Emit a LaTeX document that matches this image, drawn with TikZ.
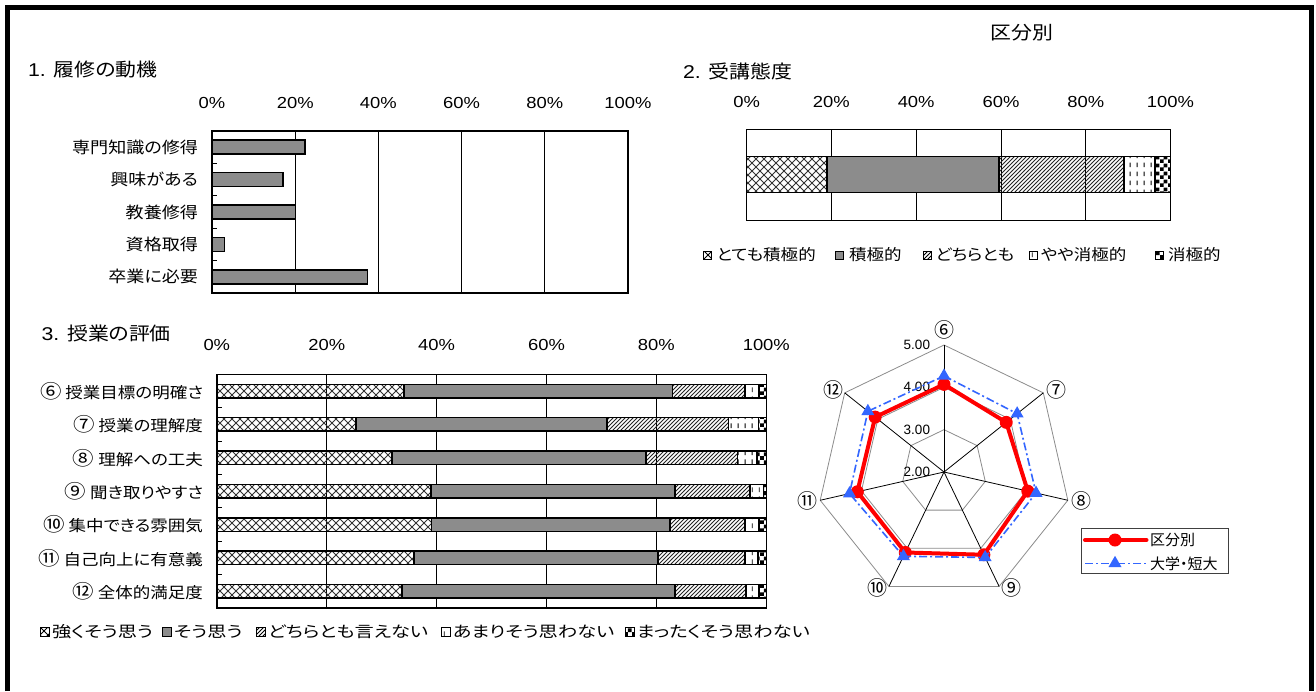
\documentclass[tikz,border=0pt]{standalone}
\usepackage{fontspec}
\setmainfont[FakeStretch=1.15]{Liberation Sans}
\newfontfamily\jp[FakeStretch=1.13,RawFeature=+palt]{Noto Sans CJK JP}
\newfontfamily\jpw[FakeStretch=1.24,RawFeature=+palt]{Noto Sans CJK JP}
\newfontfamily\jpn[RawFeature=+palt]{Noto Sans CJK JP}
\newfontfamily\lsn{Liberation Sans}
\newcommand\cnum[1]{{\fontsize{19}{18}\selectfont #1}}
\usetikzlibrary{patterns,shapes.geometric}
\pgfdeclarepatternformonly{xdiam}{\pgfqpoint{-1pt}{-1pt}}{\pgfqpoint{9pt}{9pt}}{\pgfqpoint{8pt}{8pt}}{%
  \pgfsetlinewidth{0.75pt}%
  \pgfpathmoveto{\pgfqpoint{0pt}{0pt}}\pgfpathlineto{\pgfqpoint{8.1pt}{8.1pt}}%
  \pgfpathmoveto{\pgfqpoint{0pt}{8pt}}\pgfpathlineto{\pgfqpoint{8.1pt}{-0.1pt}}%
  \pgfusepath{stroke}}
\pgfdeclarepatternformonly{hatchne}{\pgfqpoint{-1pt}{-1pt}}{\pgfqpoint{5pt}{5pt}}{\pgfqpoint{4pt}{4pt}}{%
  \pgfsetlinewidth{0.8pt}%
  \pgfpathmoveto{\pgfqpoint{0pt}{0pt}}\pgfpathlineto{\pgfqpoint{4.1pt}{4.1pt}}%
  \pgfusepath{stroke}}
\pgfdeclarepatternformonly{vdash}{\pgfqpoint{0pt}{0pt}}{\pgfqpoint{7pt}{9pt}}{\pgfqpoint{7pt}{9pt}}{%
  \pgfsetlinewidth{1pt}%
  \pgfpathmoveto{\pgfqpoint{3.5pt}{2pt}}\pgfpathlineto{\pgfqpoint{3.5pt}{7pt}}%
  \pgfusepath{stroke}}
\pgfdeclarepatternformonly{checkr}{\pgfqpoint{0pt}{0pt}}{\pgfqpoint{8pt}{8pt}}{\pgfqpoint{8pt}{8pt}}{%
  \pgfpathrectangle{\pgfqpoint{0pt}{0pt}}{\pgfqpoint{4pt}{4pt}}%
  \pgfpathrectangle{\pgfqpoint{4pt}{4pt}}{\pgfqpoint{4pt}{4pt}}%
  \pgfusepath{fill}}
\tikzset{
  txt/.style={inner sep=0pt, outer sep=0pt},
  ttl/.style={txt, anchor=west, font=\fontsize{18.5}{22}\selectfont},
  lbl/.style={txt, anchor=east, font=\jp\fontsize{15.5}{18}\selectfont},
  lblb/.style={txt, anchor=east, font=\jp\fontsize{16}{18}\selectfont},
  leg/.style={txt, anchor=west, font=\jp\fontsize{15.5}{18}\selectfont},
  legw/.style={txt, anchor=west, font=\jpw\fontsize{15.5}{18}\selectfont},
  pct/.style={txt, font=\fontsize{16}{19}\selectfont},
  seg/.style={draw=black, line width=1.5pt},
  pa/.style={seg, pattern=xdiam, pattern color=black!80},
  pb/.style={seg, fill=black!45},
  pc/.style={seg, pattern=hatchne, pattern color=black!85},
  pd/.style={seg, pattern=vdash, pattern color=black},
  pe/.style={seg, pattern=checkr, pattern color=black},
  sym/.style={draw=black, line width=0.9pt},
  grid/.style={line width=0.8pt, black},
  frame/.style={line width=1.6pt, black},
  ring/.style={line width=0.8pt, black!45},
  spoke/.style={line width=0.8pt, black},
  redl/.style={line width=4pt, red, line join=round},
  bluel/.style={line width=1.6pt, color={rgb,255:red,51;green,102;blue,255}, dash pattern=on 8pt off 3pt on 2pt off 3pt},
  tri/.style={regular polygon, regular polygon sides=3, minimum size=15pt, inner sep=0pt, fill={rgb,255:red,51;green,102;blue,255}},
  rlab/.style={txt, font=\jpn\fontsize{20}{22}\selectfont},
  rsc/.style={txt, anchor=east, font=\lsn\fontsize{13.5}{16}\selectfont},
}
\begin{document}
\begin{tikzpicture}[x=1pt,y=-1pt]
\useasboundingbox (0,0) rectangle (1316,691);
\fill[white] (0,0) rectangle (1316,691);
\draw[line width=5pt] (7.5,691) -- (7.5,7.5) -- (1311,7.5) -- (1311,691);

% headings
\node[txt, font=\jp\fontsize{18.5}{22}\selectfont] (kubun) at (1022,33) {区分別};
\node[ttl] (t1) at (28,70) {1. {\jp 履修の動機}};
\node[ttl] (t2) at (683,71) {2. {\jp 受講態度}};
\node[ttl] (t3) at (41.5,333) {3. {\jp 授業の評価}};

% ---------------- chart 1
\foreach \i/\t in {0/{0\%},1/{20\%},2/{40\%},3/{60\%},4/{80\%},5/{100\%}}
  \node[pct] (a1p\i) at ({212+83.2*\i},103) {\t};
\foreach \i in {1,...,4}
  \draw[grid] ({212+83.2*\i},131) -- ({212+83.2*\i},293);
\foreach \k/\v/\t in {0/22.4/専門知識の修得,1/17.1/興味がある,2/20.1/教養修得,3/3.0/資格取得,4/37.4/卒業に必要}{
  \pgfmathsetmacro\yc{131+32.4*(\k+0.5)}
  \path[pb] (212,{\yc-7}) rectangle ({212+4.16*\v},{\yc+7});
  \node[lblb] (c1l\k) at (198,\yc) {\t};
}
\foreach \k in {1,...,4}
  \draw[line width=0.8pt] (212,{131+32.4*\k}) -- (217,{131+32.4*\k});
\draw[frame] (212,131) rectangle (628,293);

% ---------------- chart 2
\foreach \i/\t in {0/{0\%},1/{20\%},2/{40\%},3/{60\%},4/{80\%},5/{100\%}}
  \node[pct] (a2p\i) at ({746.6+84.78*\i},102) {\t};
\foreach \i in {1,...,4}
  \draw[grid] ({746.6+84.78*\i},129.3) -- ({746.6+84.78*\i},220.5);
\path[pa] (746.6,156.7) rectangle ({746.6+4.2378*19.0},192.7);
\path[pb] ({746.6+4.2378*19.0},156.7) rectangle ({746.6+4.2378*59.6},192.7);
\path[pc] ({746.6+4.2378*59.6},156.7) rectangle ({746.6+4.2378*89.1},192.7);
\path[pd] ({746.6+4.2378*89.1},156.7) rectangle ({746.6+4.2378*96.4},192.7);
\path[pe] ({746.6+4.2378*96.4},156.7) rectangle (1170.4,192.7);
\draw[frame] (746.6,129.3) rectangle (1170.4,220.5);
% legend 2
\path[sym, pattern=xdiam, pattern color=black] (703,251) rectangle (711,259);
\node[leg] (l2a) at (716.5,255) {とても積極的};
\path[sym, fill=black!45] (835.5,251) rectangle (843.5,259);
\node[leg] (l2b) at (849,255) {積極的};
\path[sym, pattern=hatchne, pattern color=black] (923,251) rectangle (931,259);
\node[leg] (l2c) at (935.5,255) {どちらとも};
\path[sym, pattern=vdash, pattern color=black] (1029,251) rectangle (1037,259);
\node[leg] (l2d) at (1041,255) {やや消極的};
\path[sym, pattern=checkr, pattern color=black] (1155,251) rectangle (1163,259);
\node[leg] (l2e) at (1168,255) {消極的};

% ---------------- chart 3
\foreach \i/\t in {0/{0\%},1/{20\%},2/{40\%},3/{60\%},4/{80\%},5/{100\%}}
  \node[pct] (a3p\i) at ({216.8+109.9*\i},345) {\t};
\foreach \i in {1,...,4}
  \draw[grid] ({216.8+109.9*\i},374.3) -- ({216.8+109.9*\i},608);
\foreach \k/\a/\b/\c/\d/\n/\t in {
  0/34.1/82.9/96.1/98.7/⑥/{授業目標の明確さ},
  1/25.3/71.0/93.1/98.6/⑦/{授業の理解度},
  2/31.9/78.1/94.8/98.3/⑧/{理解への工夫},
  3/39.0/83.4/97.0/99.5/⑨/{聞き取りやすさ},
  4/39.1/82.5/96.1/98.7/⑩/{集中できる雰囲気},
  5/35.9/80.3/96.1/98.5/⑪/{自己向上に有意義},
  6/33.7/83.4/96.3/98.7/⑫/{全体的満足度}}{
  \pgfmathsetmacro\yc{374.3+33.39*(\k+0.5)}
  \pgfmathsetmacro\ya{\yc-6.75}
  \pgfmathsetmacro\yb{\yc+6.75}
  \path[pa] (216.8,\ya) rectangle ({216.8+5.495*\a},\yb);
  \path[pb] ({216.8+5.495*\a},\ya) rectangle ({216.8+5.495*\b},\yb);
  \path[pc] ({216.8+5.495*\b},\ya) rectangle ({216.8+5.495*\c},\yb);
  \path[pd] ({216.8+5.495*\c},\ya) rectangle ({216.8+5.495*\d},\yb);
  \path[pe] ({216.8+5.495*\d},\ya) rectangle (766.3,\yb);
  \node[lbl] (c3l\k) at (203,\yc) {\cnum{\n} \t};
}
\foreach \k in {1,...,6}
  \draw[line width=0.8pt] (216.8,{374.3+33.39*\k}) -- (222,{374.3+33.39*\k});
\draw[frame] (216.8,374.3) rectangle (766.3,608);
% legend 3
\path[sym, pattern=xdiam, pattern color=black] (40,627.5) rectangle (49,636.5);
\node[legw] (l3a) at (52,632) {強くそう思う};
\path[sym, fill=black!45] (162,627.5) rectangle (171,636.5);
\node[legw] (l3b) at (174,632) {そう思う};
\path[sym, pattern=hatchne, pattern color=black] (256,627.5) rectangle (265,636.5);
\node[legw] (l3c) at (268,632) {どちらとも言えない};
\path[sym, pattern=vdash, pattern color=black] (441,627.5) rectangle (450,636.5);
\node[legw] (l3d) at (453,632) {あまりそう思わない};
\path[sym, pattern=checkr, pattern color=black] (625,627.5) rectangle (634,636.5);
\node[legw] (l3e) at (637,632) {まったくそう思わない};

% ---------------- radar
\coordinate (ctr) at (944,472);
\foreach \i/\r/\b in {0/4.07/4.27,1/3.88/4.21,2/4.03/4.23,3/4.17/4.24,4/4.11/4.21,5/4.10/4.29,6/4.08/4.30}{
  \pgfmathsetmacro\ang{90-\i*360/7}
  \coordinate (O\i) at ({944+127*cos(\ang)},{472-127*sin(\ang)});
  \coordinate (F\i) at ({944+84.667*cos(\ang)},{472-84.667*sin(\ang)});
  \coordinate (T\i) at ({944+42.333*cos(\ang)},{472-42.333*sin(\ang)});
  \coordinate (R\i) at ({944+42.333*(\r-2)*cos(\ang)},{472-42.333*(\r-2)*sin(\ang)});
  \coordinate (B\i) at ({944+42.333*(\b-2)*cos(\ang)},{472-42.333*(\b-2)*sin(\ang)});
}
\draw[ring] (T0)--(T1)--(T2)--(T3)--(T4)--(T5)--(T6)--cycle;
\draw[ring] (F0)--(F1)--(F2)--(F3)--(F4)--(F5)--(F6)--cycle;
\draw[ring] (O0)--(O1)--(O2)--(O3)--(O4)--(O5)--(O6)--cycle;
\foreach \i in {0,...,6} \draw[spoke] (ctr) -- (O\i);
\node[rsc] (s5) at (930,344.5) {5.00};
\node[rsc] (s4) at (930,387) {4.00};
\node[rsc] (s3) at (930,429.5) {3.00};
\node[rsc] (s2) at (930,472) {2.00};
\node[rlab] (r6) at (944,329.5) {⑥};
\node[rlab] (r7) at (1056,389.5) {⑦};
\node[rlab] (r8) at (1081.5,500.5) {⑧};
\node[rlab] (r9) at (1011.5,587.5) {⑨};
\node[rlab] (r10) at (877.5,588) {⑩};
\node[rlab] (r11) at (807.5,500.5) {⑪};
\node[rlab] (r12) at (833.5,390) {⑫};
\draw[redl] (R0)--(R1)--(R2)--(R3)--(R4)--(R5)--(R6)--cycle;
\foreach \i in {0,...,6} \fill[red] (R\i) circle[radius=6.5];
\draw[bluel] (B0)--(B1)--(B2)--(B3)--(B4)--(B5)--(B6)--cycle;
\foreach \i in {0,...,6} \node[tri] (bt\i) at (B\i) {};
% radar legend
\draw[line width=1pt, black!75] (1081,528.7) rectangle (1228.3,573.3);
\coordinate (lr1) at (1085,540);
\coordinate (lr2) at (1146.5,540);
\draw[redl, line cap=round] (lr1) -- (lr2);
\fill[red] (1115,540) circle[radius=6.5];
\node[txt, anchor=west, font=\jpn\fontsize{15}{18}\selectfont] (lk1) at (1150,540) {区分別};
\coordinate (lb1) at (1085,563.3);
\coordinate (lb2) at (1146.5,563.3);
\draw[bluel] (lb1) -- (lb2);
\node[tri] (lbt) at (1115,563.3) {};
\node[txt, anchor=west, font=\jpn\fontsize{15}{18}\selectfont] (lk2) at (1150,563.3) {大学・短大};
\end{tikzpicture}
\end{document}
